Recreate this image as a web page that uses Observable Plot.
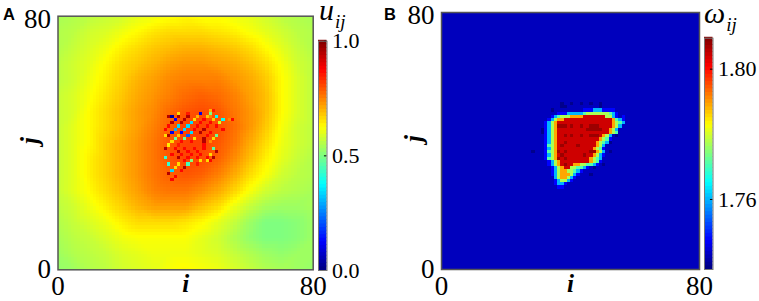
<!DOCTYPE html>
<html><head><meta charset="utf-8">
<script src="https://cdn.jsdelivr.net/npm/d3@7"></script>
<script src="https://cdn.jsdelivr.net/npm/@observablehq/plot@0.6"></script>
<style>
html,body{margin:0;padding:0;background:#fff}
#page{position:relative;width:759px;height:301px;overflow:hidden}
#page svg{position:absolute;background:transparent}
.lbl{position:absolute;white-space:nowrap;color:#000}
.tag{font:bold 16.5px "Liberation Sans",sans-serif}
.sym{font:italic 30px/20px "Liberation Serif",serif}
.sym sub{font-size:19px;line-height:0;vertical-align:baseline;position:relative;top:8px;margin-left:1px}
</style></head><body>
<div id="page">
<div class="lbl tag" style="left:3px;top:5px">A</div>
<div class="lbl tag" style="left:384px;top:5px">B</div>
<div class="lbl sym" style="left:319px;top:0px">u<sub>ij</sub></div>
<div class="lbl sym" style="left:704px;top:3px">ω<sub>ij</sub></div>
</div>
<script>
const serif = '"Liberation Serif",serif';
const jetStops = ["#00007f","#0000ff","#007fff","#00ffff","#7fff7f","#ffff00","#ff7f00","#ff0000","#7f0000"];
const jet = d3.piecewise(d3.interpolateRgb, jetStops);

// Panel A: background field sampled every 5 cells (top row j=80 first)
const fieldI = [0,5,10,15,20,25,30,35,40,45,50,55,60,65,70,75,80];
const fieldJ = [80,75,70,65,60,55,50,45,40,35,30,25,20,15,10,5,0];
const fieldU = [
 [.54,.55,.56,.57,.58,.60,.61,.62,.63,.62,.62,.61,.60,.58,.56,.55,.54],
 [.55,.56,.58,.59,.61,.63,.65,.66,.66,.66,.65,.64,.62,.60,.58,.56,.55],
 [.55,.57,.59,.61,.64,.66,.68,.69,.70,.70,.69,.68,.66,.63,.60,.57,.55],
 [.56,.58,.60,.63,.66,.68,.70,.72,.73,.73,.72,.71,.69,.66,.62,.58,.56],
 [.56,.58,.61,.64,.67,.70,.72,.74,.75,.75,.75,.73,.71,.68,.63,.59,.56],
 [.57,.59,.62,.65,.68,.71,.73,.75,.77,.78,.77,.75,.72,.69,.63,.59,.56],
 [.57,.59,.63,.66,.69,.72,.74,.77,.79,.80,.79,.76,.73,.69,.63,.59,.56],
 [.57,.60,.63,.66,.69,.72,.75,.78,.81,.81,.80,.77,.73,.68,.62,.58,.56],
 [.57,.60,.63,.67,.70,.73,.76,.79,.81,.81,.79,.76,.71,.66,.61,.58,.56],
 [.57,.60,.64,.67,.70,.73,.76,.79,.81,.80,.78,.74,.69,.64,.60,.57,.55],
 [.57,.60,.64,.67,.70,.73,.76,.78,.79,.78,.75,.71,.66,.62,.58,.56,.55],
 [.57,.60,.63,.66,.69,.72,.75,.76,.76,.74,.71,.67,.62,.58,.56,.55,.54],
 [.56,.58,.61,.64,.67,.70,.72,.72,.72,.69,.66,.61,.57,.54,.53,.53,.54],
 [.55,.57,.59,.61,.64,.66,.66,.66,.65,.63,.60,.57,.53,.50,.50,.51,.53],
 [.54,.56,.57,.59,.61,.62,.62,.62,.62,.60,.58,.55,.52,.50,.50,.51,.53],
 [.53,.55,.56,.57,.59,.60,.61,.61,.61,.60,.59,.57,.55,.53,.52,.53,.53],
 [.52,.53,.55,.56,.58,.59,.60,.62,.63,.62,.61,.59,.57,.55,.54,.53,.52]
];
// Panel A: scattered cells in the centre
const spotI = [38,41,45,48, 48,49, 35,36,38,41,44,47,48,50, 37,40,43,46,49,52,54,55, 36,39,42,45,48,51, 35,38,41,44,47,50, 34,37,40,43,46,52, 36,39,42,45,48, 34,35,38,41,47,50, 37,40,43,46,49, 36,39,42,46,48, 35,38,46, 34,37,40,43,46,49, 38,41,44,50, 36,39,42,45,48, 34,38,41,44,47,49, 40,42,45,47,48, 35,38,41,44, 37,40, 36,39, 35, 37, 36];
const spotJ = [49,49,49,49, 50,50, 48,48,48,48,48,48,48,48, 47,47,47,47,47,47,47,47, 46,46,46,46,46,46, 45,45,45,45,45,45, 44,44,44,44,44,44, 43,43,43,43,43, 42,42,42,42,42,42, 41,41,41,41,41, 40,40,40,40,40, 39,39,39, 38,38,38,38,38,38, 37,37,37,37, 36,36,36,36,36, 35,35,35,35,35,35, 34,34,34,34,34, 33,33,33,33, 32,32, 31,31, 30, 29, 28];
const spotU = [.66,.85,.1,.5, .7,.85, .95,.03,.95,.95,.7,.68,.75,.38, .12,.95,.66,.87,.68,.38,.74,.87, .95,.95,.34,.87,.87,.58, .87,.34,.34,.87,.87,.87, .87,.3,.34,.87,.95,.87, .1,.12,.34,.95,.87, .66,.95,.68,.22,.87,.48, .48,.48,.66,.95,.66, .66,.87,.87,.95,.74, .64,.85,.87, .95,.87,.87,.87,.87,.46, .95,.87,.87,.95, .87,.87,.87,.87,.66, .42,.95,.87,.87,.87,.95, .87,.5,.66,.66,.87, .42,.66,.44,.85, .66,.95, .34,.87, .95, .87, .87];

// Panel B: rows of the central region, j of each row, first character is column i=28
const omegaCode = {n:1.7395,l:1.7475,c:1.7600,g:1.7710,y:1.7770,o:1.7890,r:1.8040,D:1.8075};
const omegaBase = 1.7428;
const omegaRowJ = [51,50,49,48,47,46,45,44,43,42,41,40,39,38,37,36,35,34,33,32,31,30,29,28,27,26,25];
const omegaRows = [
 ".........n..n..n..n..n",
 ".........nn..........n",
 "......n.........lllcccllll",
 "........lllcccccgyyyyyyygcl",
 "......lcgyyyoooorrrrrrryycl.l",
 ".....lcyoorrrrrrrrrrrrrrrogcl",
 "....lcyorrrrrrrrrrrrrrrrroygc",
 "....lcyoDDDrDrrDrrDDDrrrroyc",
 "...nlcyorrrrrrrrrDDDDDrroyc",
 "...nlcyorrrrrrrrrrrrrrrroyg",
 "....lcyorrDrDrrDrrDDDroyc.n",
 "....lcyorrrrrrrrrrrrroygl",
 "....lcyorrDrrrrrrrrroygcn",
 "....lgyorDrrrrDrrrrroyc",
 "....lcyorrrrrrrrrrroygl",
 "n...lgyoDrDrrrrrrrDDoyc.n",
 "....lcyorDrrrrrrDrroycl",
 "....lgyoDrDrrrrrrroygc",
 ".....lcyorrrrrrrrroygl",
 ".....lcyorDrrooyyggcl.n",
 "......lcyorryyggcl.n",
 "......lcyooyygcl",
 "......lcyoooycl...n",
 ".......cyooycl",
 ".......lcyycl",
 ".......lccl",
 "........ll"
];
const omegaDomain = [1.7385, 1.8095];
const uDomain = [0, 1];
const uBarTicks = [0, .5, 1];
const omegaBarTicks = [1.76, 1.80];
const barSteps = d3.range(64);

const page = document.getElementById("page");
function place(svg, left, top){ svg.style.left = left+"px"; svg.style.top = top+"px"; page.appendChild(svg); }

function panel({width, ml, mr, mt, mb, domain, marks}){
  const tickStyle = {tickSize:0, label:null, fontSize:27, fontFamily:serif, fill:"#000", tickFormat:d=>d};
  const labelStyle = {text:d=>d, fontSize:25, fontFamily:serif, fontWeight:"bold", fontStyle:"italic"};
  return Plot.plot({
    width, height:301, marginLeft:ml, marginRight:mr, marginTop:mt, marginBottom:mb,
    style:{background:"transparent", overflow:"visible"},
    x:{domain:[0,80]}, y:{domain:[0,80]},
    color:{type:"linear", domain, interpolate:jet},
    marks:[
      ...marks,
      Plot.frame({stroke:"#555", strokeWidth:1.5}),
      Plot.axisX({ticks:[0,80], tickPadding:6, ...tickStyle}),
      Plot.axisY({ticks:[0], tickPadding:7, ...tickStyle}),
      Plot.axisY({ticks:[80], tickPadding:7, dy:3, ...tickStyle}),
      Plot.text(["i"],{frameAnchor:"bottom", dy:22, ...labelStyle}),
      Plot.text(["j"],{frameAnchor:"left", dx:-28, dy:1, rotate:-90, ...labelStyle})
    ]
  });
}

const samples = fieldJ.flatMap((j,r)=>fieldI.map((i,c)=>({i,j,u:fieldU[r][c]})));
const spots = spotI.map((i,k)=>({i,j:spotJ[k],u:spotU[k]}));
const svgA = panel({width:330,ml:57.5,mr:17.3,mt:15.7,mb:31.7,domain:uDomain,marks:[
  Plot.raster(samples,{x:"i",y:"j",fill:"u",interpolate:"barycentric",x1:0,x2:80,y1:0,y2:80,width:80,height:80,imageRendering:"pixelated"}),
  Plot.rect(spots,{x1:d=>d.i-.6,x2:d=>d.i+.4,y1:d=>d.j-.3,y2:d=>d.j+.7,fill:"u",shapeRendering:"crispEdges"})
]});
place(svgA,0,0);

const cellsB = omegaRows.flatMap((row,r)=>Array.from(row).flatMap((ch,k)=>ch==="."?[]:[{i:28+k,j:omegaRowJ[r],w:omegaCode[ch]}]));
const svgB = panel({width:340,ml:61,mr:21,mt:12,mb:32,domain:omegaDomain,marks:[
  Plot.rect([omegaBase],{x1:0,x2:80,y1:0,y2:80,fill:d=>d}),
  Plot.rect(cellsB,{x1:"i",x2:d=>d.i+1,y1:"j",y2:d=>d.j+1,fill:"w",shapeRendering:"crispEdges"})
]});
place(svgB,380,0);

function colorbar({width,mt,mb,domain,ticks,format}){
  const [a,b]=domain, frac=k=>a+(b-a)*k/64;
  return Plot.plot({
    width,height:301,marginLeft:0,marginRight:width-8.5,marginTop:mt,marginBottom:mb,
    style:{background:"transparent",overflow:"visible"},
    x:{domain:[0,1],axis:null}, y:{domain,axis:null},
    color:{type:"linear",domain,interpolate:jet},
    marks:[
      Plot.rect(barSteps,{x1:0,x2:1,y1:k=>frac(k),y2:k=>frac(k+1)+(b-a)*.004,fill:k=>frac(k+.5)}),
      Plot.ruleY(ticks,{x1:.7,x2:1,y:d=>d,stroke:"#000",strokeWidth:1}),
      Plot.frame({stroke:"#777",strokeWidth:1}),
      Plot.axisY({ticks,anchor:"right",tickSize:0,tickPadding:5,label:null,fontSize:22,fontFamily:serif,fill:"#000",tickFormat:format})
    ]
  });
}
place(colorbar({width:60,mt:40.7,mb:31,domain:uDomain,ticks:uBarTicks,format:d3.format(".1f")}),317.7,0);
place(colorbar({width:50,mt:37.7,mb:32,domain:omegaDomain,ticks:omegaBarTicks,format:d3.format(".2f")}),704,0);
</script>
</body></html>
